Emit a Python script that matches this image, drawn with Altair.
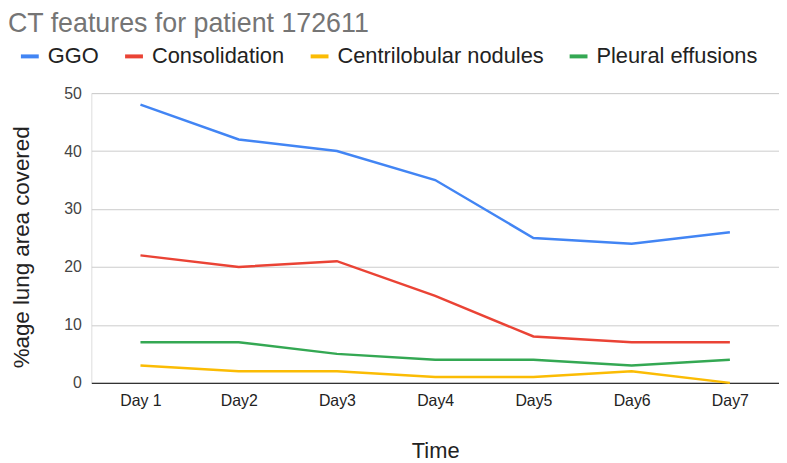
import altair as alt
import pandas as pd

days = ["Day 1", "Day2", "Day3", "Day4", "Day5", "Day6", "Day7"]
series_names = ["GGO", "Consolidation", "Centrilobular nodules", "Pleural effusions"]
ggo = [48, 42, 40, 35, 25, 24, 26]
consolidation = [22, 20, 21, 15, 8, 7, 7]
centrilobular = [3, 2, 2, 1, 1, 2, 0]
pleural = [7, 7, 5, 4, 4, 3, 4]
colors = ["#4285F4", "#EA4335", "#FBBC04", "#34A853"]

rows = []
for name, vals in zip(series_names, [ggo, consolidation, centrilobular, pleural]):
    for d, v in zip(days, vals):
        rows.append({"Time": d, "value": v, "series": name})
df = pd.DataFrame(rows)

chart = alt.Chart(df).mark_line(strokeWidth=2.5).encode(
    x=alt.X("Time:N", sort=days,
            scale=alt.Scale(type="point", padding=0.5),
            axis=alt.Axis(title="Time", labelAngle=0, labelFontSize=16, labelColor="#222",
                          labelPadding=10, ticks=False, domainColor="#333", domainWidth=1.2,
                          titleFontSize=22, titleFontWeight="normal", titleColor="#222",
                          titlePadding=32, grid=False)),
    y=alt.Y("value:Q", scale=alt.Scale(domain=[0, 50]),
            axis=alt.Axis(title="%age lung area covered", values=[0, 10, 20, 30, 40, 50],
                          labelFontSize=16, labelColor="#444", labelPadding=10, ticks=False,
                          domain=False, gridColor="#ccc", titleFontSize=22.5,
                          titleFontWeight="normal", titleColor="#222", titlePadding=31,
                          titleY=155)),
    color=alt.Color("series:N", sort=series_names,
                    scale=alt.Scale(domain=series_names, range=colors),
                    legend=alt.Legend(title=None, orient="none", direction="horizontal",
                                      legendX=-73, legendY=-48, symbolType="stroke",
                                      symbolStrokeWidth=4, symbolSize=324, labelFontSize=22,
                                      labelColor="#222", labelOffset=7, columnPadding=18,
                                      labelLimit=0, columns=4)),
    order=alt.Order("series:N")
).properties(
    width=693, height=292,
    autosize=alt.AutoSizeParams(type="none"),
    padding={"left": 84, "top": 84, "right": 0, "bottom": 80},
    title=alt.TitleParams("CT features for patient 172611", anchor="start", frame="group",
                          dx=-84, fontSize=27, fontWeight="normal", color="#757575",
                          offset=8)
).configure_view(stroke=None).configure(font="Arial")

chart.save("out.html", embed_options={"renderer": "svg", "actions": False})
